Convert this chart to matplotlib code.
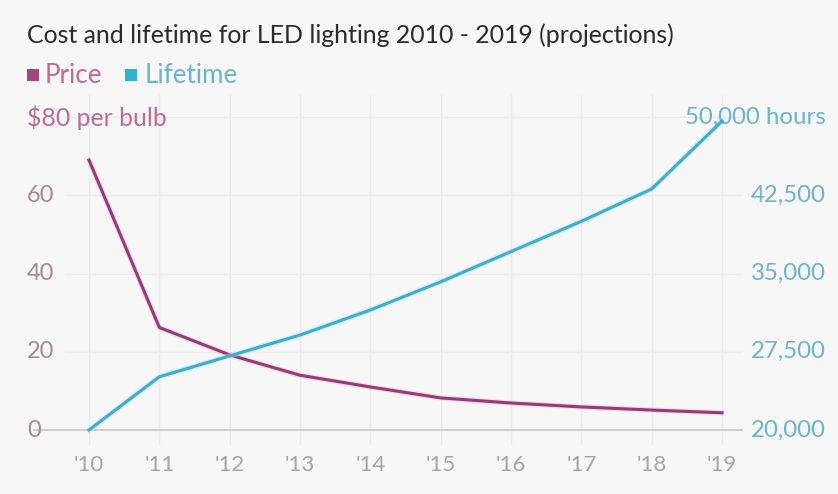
import matplotlib
matplotlib.use("Agg")
import matplotlib.pyplot as plt
import matplotlib.transforms as mtransforms

plt.rcParams['font.family'] = ['Lato', 'DejaVu Sans']

years = [2010, 2011, 2012, 2013, 2014, 2015, 2016, 2017, 2018, 2019]
year_labels = ["'10", "'11", "'12", "'13", "'14", "'15", "'16", "'17", "'18", "'19"]
price = [69, 26.2, 19.2, 14, 11, 8.2, 6.9, 5.9, 5.1, 4.4]
lifetime = [20000, 25100, 27100, 29100, 31500, 34200, 37100, 40000, 43100, 49600]
price_ticks = [0, 20, 40, 60]
price_tick_labels = ["0", "20", "40", "60", "$80 per bulb"]
life_ticks = [20000, 27500, 35000, 42500, 50000]
life_tick_labels = ["20,000", "27,500", "35,000", "42,500", "50,000 hours"]

BG = '#f7f7f8'
PRICE_C = '#953c74'
LIFE_C = '#42acca'
PRICE_TXT = '#bf6a98'
PRICE_TICK_TXT = '#a7889a'
LIFE_TXT = '#6db3cf'

W, H = 838, 494
fig = plt.figure(figsize=(W / 100, H / 100), dpi=100, facecolor=BG)

def fx(px):
    return px / W

def fy(py):
    return 1 - py / H

ax = fig.add_axes([fx(33), fy(445), fx(743) - fx(33), fy(95) - fy(445)])
ax.set_facecolor(BG)
for s in ax.spines.values():
    s.set_visible(False)

# y scale: 0 at px 430, 80 at px 117
ppu = (430 - 117) / 80.0
y_lo = -(445 - 430) / ppu
y_hi = (430 - 95) / ppu
ax.set_ylim(y_lo, y_hi)
# x scale: 2010 at px 89, 2019 at px 722
ppx = (722 - 89) / 9.0
ax.set_xlim(2010 - (89 - 33) / ppx, 2019 + (743 - 722) / ppx)

ax2 = ax.twinx()
for s in ax2.spines.values():
    s.set_visible(False)
k = 7500 / 20.0
ax2.set_ylim(20000 + k * y_lo, 20000 + k * y_hi)

ax.set_xticks([])
ax.set_yticks([])
ax2.set_yticks([])

# vertical grid lines
for x in years:
    ax.axvline(x, color='#ebebed', lw=1, zorder=0)
# horizontal grid lines
for t in price_ticks[1:] + [80]:
    ax.axhline(t, xmin=(65 - 33) / (743 - 33), xmax=1, color='#ebebed', lw=1, zorder=0)
ax.axhline(0, color='#c8c8ca', lw=1.2, zorder=1)

ax.plot(years, price, color='#f0a8d8', lw=4.0, alpha=0.35, solid_capstyle='round', zorder=3)
ax.plot(years, price, color=PRICE_C, lw=2.2, zorder=4)
ax2.plot(years, lifetime, color='#9be6f7', lw=4.0, alpha=0.45, solid_capstyle='round', zorder=3)
ax2.plot(years, lifetime, color=LIFE_C, lw=2.2, zorder=4)

# left labels
tl = mtransforms.blended_transform_factory(fig.transFigure, ax.transData)
for v, lab in zip(price_ticks + [80], price_tick_labels):
    c = PRICE_TXT if v == 80 else PRICE_TICK_TXT
    fs = 17.8 if v == 80 else 17
    ax.text(fx(27), v, lab, transform=tl, ha='left', va='center', fontsize=fs, color=c)

tr = mtransforms.blended_transform_factory(fig.transFigure, ax2.transData)
for v, lab in zip(life_ticks, life_tick_labels):
    ax2.text(fx(826), v, lab, transform=tr, ha='right', va='center', fontsize=17.3, color=LIFE_TXT)

# x labels
tx = mtransforms.blended_transform_factory(ax.transData, fig.transFigure)
for x, lab in zip(years, year_labels):
    ax.text(x, fy(465), lab, transform=tx, ha='center', va='center', fontsize=16, color='#a5a5a8')

# title and legend
fig.text(fx(27), fy(35), "Cost and lifetime for LED lighting 2010 - 2019 (projections)",
         ha='left', va='center', fontsize=17.9, color='#2b2b2b')
fig.patches.append(plt.Rectangle((fx(27), fy(81)), fx(12), fy(69) - fy(81), transform=fig.transFigure,
                                 facecolor='#a5447e', edgecolor='none'))
fig.text(fx(45), fy(75), "Price", ha='left', va='center', fontsize=18.7, color=PRICE_TXT)
fig.patches.append(plt.Rectangle((fx(125), fy(81)), fx(12), fy(69) - fy(81), transform=fig.transFigure,
                                 facecolor='#2fb0d8', edgecolor='none'))
fig.text(fx(145), fy(75), "Lifetime", ha='left', va='center', fontsize=18.7, color=LIFE_TXT)

fig.savefig('out.png', dpi=100, facecolor=BG)
